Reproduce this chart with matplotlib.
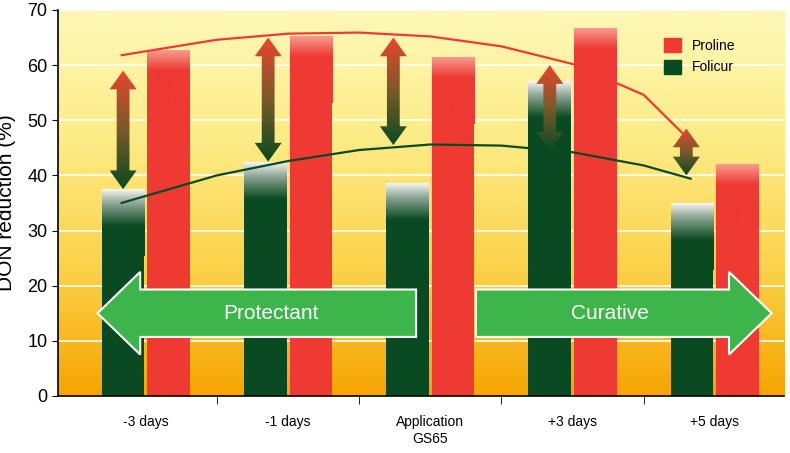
import numpy as np
import matplotlib.pyplot as plt
from matplotlib.patches import Polygon, Patch
from matplotlib.colors import LinearSegmentedColormap

plt.rcParams["font.family"] = "Liberation Sans"

# ---------------------------------------------------------
# Data
# ---------------------------------------------------------
categories = ["-3 days", "-1 days", "Application\nGS65", "+3 days", "+5 days"]
folicur = [37.3, 42.2, 38.4, 56.9, 34.8]
proline = [62.6, 65.1, 61.4, 66.6, 41.9]

# trend curves (x in category units)
red_curve_x = [-0.17, 0.5, 1.0, 1.5, 2.0, 2.5, 3.0, 3.5, 3.83]
red_curve_y = [61.8, 64.6, 65.7, 65.9, 65.2, 63.4, 60.2, 54.6, 46.2]
green_curve_x = [-0.17, 0.5, 1.0, 1.5, 2.0, 2.5, 3.0, 3.5, 3.83]
green_curve_y = [35.0, 40.0, 42.6, 44.6, 45.6, 45.4, 44.2, 41.8, 39.4]

# double arrows: x position, bottom, top
arrow_x = [-0.16, 0.86, 1.74, 2.84, 3.8]
arrow_lo = [37.5, 42.5, 45.5, 44.5, 40.0]
arrow_hi = [59.0, 65.0, 65.0, 60.0, 48.5]

green = "#0a4a22"
red = "#ee3a33"

fig = plt.figure(figsize=(7.9, 4.53), dpi=100)
ax = fig.add_axes([0.073, 0.126, 0.920, 0.852])
xmin, xmax = -0.62, 4.49
ax.set_xlim(xmin, xmax)
ax.set_ylim(0, 70)

# background gradient
bg = LinearSegmentedColormap.from_list("bg", ["#f6a400", "#fbd24a", "#fcec86", "#fdf8b8"])
ax.imshow(np.linspace(0, 1, 256).reshape(-1, 1), cmap=bg, origin="lower", aspect="auto",
          extent=[xmin, xmax, 0, 70], zorder=0)
for y in range(10, 71, 10):
    ax.axhline(y, color="white", lw=1.2, zorder=1)

x = np.arange(len(categories))
w = 0.3
gcm = LinearSegmentedColormap.from_list("g", [(0, green), (0.45, green), (0.8, "#8fa898"), (1, "#f4f4f0")])
rcm = LinearSegmentedColormap.from_list("r", [(0, red), (0.7, red), (1, "#f79a8c")])
for xs, vals, cm in [(x - 0.16, folicur, gcm), (x + 0.16, proline, rcm)]:
    bars = ax.bar(xs, vals, w, color="none", edgecolor="none", zorder=2)
    for b, v in zip(bars, vals):
        top = 12.0
        ax.imshow(np.linspace(0, 1, 64).reshape(-1, 1), cmap=cm, origin="lower",
                  aspect="auto", extent=[b.get_x(), b.get_x() + w, v - top, v], zorder=2)
        ax.add_patch(Polygon([[b.get_x(), 0], [b.get_x() + w, 0], [b.get_x() + w, v - top + 0.1],
                              [b.get_x(), v - top + 0.1]], closed=True, color=cm(0.0), lw=0, zorder=2))

# trend curves
ax.plot(red_curve_x, red_curve_y, color=red, lw=1.6, zorder=3)
ax.plot(green_curve_x, green_curve_y, color=green, lw=1.6, zorder=3)

# gradient double arrows
acm = LinearSegmentedColormap.from_list("a", [green, "#7a5a2a", "#e8452f"])
for ax_, lo, hi in zip(arrow_x, arrow_lo, arrow_hi):
    sw, hw = 0.045, 0.095
    hl = min(3.4, (hi - lo) / 2.5)
    pts = [[ax_, hi], [ax_ + hw, hi - hl], [ax_ + sw, hi - hl], [ax_ + sw, lo + hl],
           [ax_ + hw, lo + hl], [ax_, lo], [ax_ - hw, lo + hl], [ax_ - sw, lo + hl],
           [ax_ - sw, hi - hl], [ax_ - hw, hi - hl]]
    poly = Polygon(pts, closed=True, facecolor="none", edgecolor="none", zorder=4)
    ax.add_patch(poly)
    im = ax.imshow(np.linspace(0, 1, 64).reshape(-1, 1), cmap=acm, origin="lower", aspect="auto",
                   extent=[ax_ - hw, ax_ + hw, lo, hi], zorder=4)
    im.set_clip_path(poly)

# big arrows
for x0, x1, label in [(-0.34, 1.9, "Protectant"), (2.32, 4.4, "Curative")]:
    hl = 0.3
    if label == "Protectant":
        pts = [[x0, 15], [x0 + hl, 22.5], [x0 + hl, 19.3], [x1, 19.3], [x1, 10.7], [x0 + hl, 10.7], [x0 + hl, 7.5]]
    else:
        pts = [[x1, 15], [x1 - hl, 22.5], [x1 - hl, 19.3], [x0, 19.3], [x0, 10.7], [x1 - hl, 10.7], [x1 - hl, 7.5]]
    ax.add_patch(Polygon(pts, closed=True, fc="#3db54a", ec="white", lw=1.5, zorder=5))
    ax.text((x0 + x1) / 2 + (0.1 if label == "Protectant" else -0.1), 15, label, color="white",
            fontsize=15, ha="center", va="center", zorder=6)

# axes styling
for s in ["top", "right"]:
    ax.spines[s].set_visible(False)
ax.spines["left"].set_linewidth(1.2)
ax.spines["bottom"].set_linewidth(1.2)
ax.set_xticks(x)
ax.set_xticklabels(categories, fontsize=10)
ax.tick_params(axis="x", length=0, pad=14)
ax.set_xticks(np.arange(0.5, 4.5, 1), minor=True)
ax.tick_params(axis="x", which="minor", length=6, direction="out")
ax.set_yticks(range(0, 71, 10))
ax.tick_params(axis="y", labelsize=13, length=4)
ax.set_ylabel("DON reduction (%)", fontsize=15, labelpad=8)

ax.legend(handles=[Patch(color=red, label="Proline"), Patch(color=green, label="Folicur")],
          loc="upper right", bbox_to_anchor=(0.95, 0.96), frameon=False, fontsize=10,
          handlelength=1.2, handleheight=1.2)

fig.savefig("out.png", dpi=100)
